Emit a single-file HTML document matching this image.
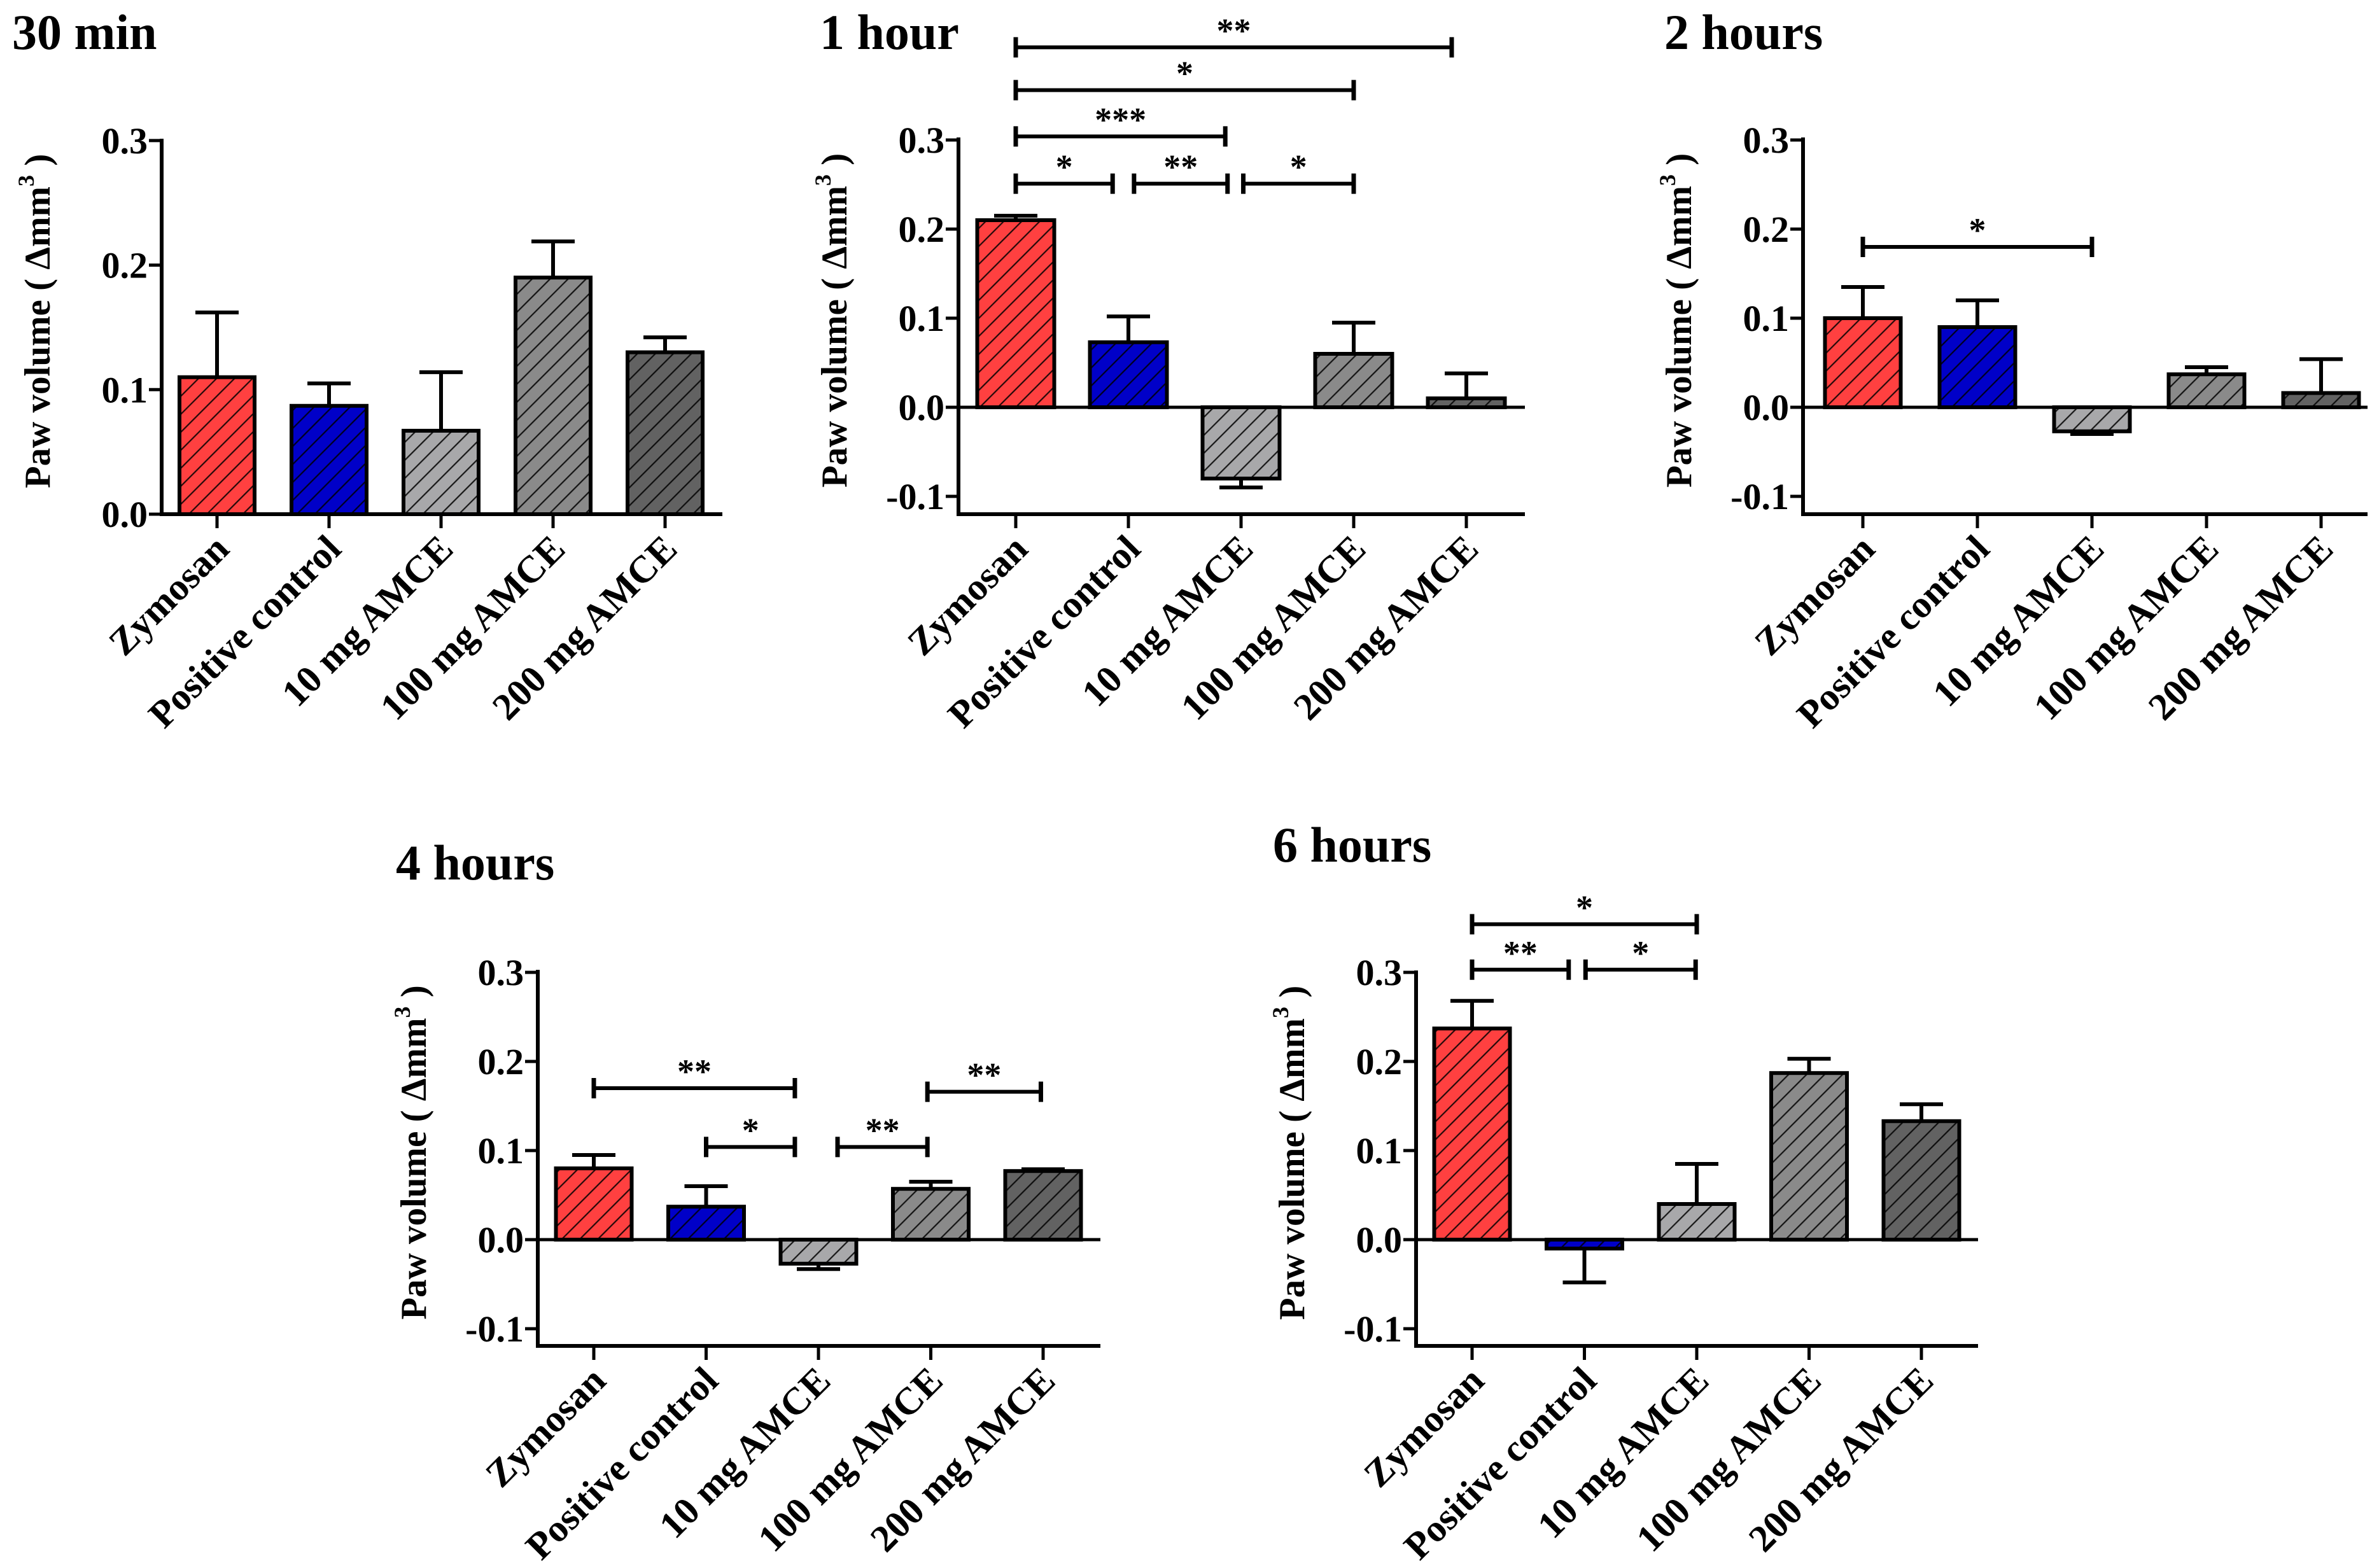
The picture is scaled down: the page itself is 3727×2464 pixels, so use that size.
<!DOCTYPE html>
<html><head><meta charset="utf-8">
<style>
html,body{margin:0;padding:0;background:#fff;}
svg{display:block;}
text{font-family:"Liberation Serif",serif;font-weight:bold;fill:#000;}
</style></head>
<body>
<svg id="fig" width="3727" height="2464" viewBox="0 0 3727 2464" xmlns="http://www.w3.org/2000/svg">
<defs>
<pattern id="hatch" patternUnits="userSpaceOnUse" width="20" height="20" patternTransform="rotate(45)">
<line x1="0" y1="0" x2="0" y2="20" stroke="#000" stroke-width="4.5"/>
</pattern>
</defs>
</svg>
<script>
const categories = ["Zymosan","Positive control","10 mg AMCE","100 mg AMCE","200 mg AMCE"];
const barColors = ["#ff4040","#0000c8","#a8a8aa","#8a8a8a","#626262"];
const titles = ["30 min","1 hour","2 hours","4 hours","6 hours"];
const means30 = [0.110, 0.087, 0.067, 0.190, 0.130];
const errs30  = [0.162, 0.105, 0.114, 0.219, 0.142];
const means1h = [0.210, 0.073, -0.080, 0.060, 0.010];
const errs1h  = [0.215, 0.102, -0.090, 0.095, 0.038];
const means2h = [0.100, 0.090, -0.027, 0.037, 0.016];
const errs2h  = [0.135, 0.120, -0.030, 0.045, 0.054];
const means4h = [0.080, 0.037, -0.027, 0.057, 0.077];
const errs4h  = [0.095, 0.060, -0.033, 0.065, 0.079];
const means6h = [0.237, -0.010, 0.040, 0.187, 0.133];
const errs6h  = [0.268, -0.048, 0.085, 0.203, 0.152];
const ticksA = [0.0, 0.1, 0.2, 0.3];
const ticksB = [-0.1, 0.0, 0.1, 0.2, 0.3];
const tickLabelsA = ["0.0","0.1","0.2","0.3"];
const tickLabelsB = ["-0.1","0.0","0.1","0.2","0.3"];
// significance brackets: [fromIndex, toIndex, level(value units), label]
const sig30 = [];
const sig1h = [[0,3.87,0.404,"**"],[0,3,0.356,"*"],[0,1.86,0.304,"***"],[0,0.86,0.251,"*"],[1.05,1.88,0.251,"**"],[2.02,3,0.251,"*"]];
const sig2h = [[0,2,0.180,"*"]];
const sig4h = [[0,1.79,0.170,"**"],[1,1.79,0.104,"*"],[2.17,2.97,0.104,"**"],[2.97,3.98,0.166,"**"]];
const sig6h = [[0,2,0.354,"*"],[0,0.86,0.303,"**"],[1.01,1.99,0.303,"*"]];

const NS="http://www.w3.org/2000/svg";
const svg=document.getElementById('fig');
function mk(tag,attrs,parent){const e=document.createElementNS(NS,tag);for(const k in attrs)e.setAttribute(k,attrs[k]);(parent||svg).appendChild(e);return e;}

function panel(cfg){
  const g=mk('g',{});
  
  
  const {ax,top,zero,step,bottom,xEnd,x0,dx,ymin,ticks,tlabels,means,errs,sig,title,tx,ty,bw}=cfg;
  const Y=v=>zero-(v/0.1)*step;
  const X=i=>x0+i*dx;
  const t=mk('text',{x:tx,y:ty,'font-size':78},g);t.textContent=title;
  
  
  means.forEach((m,i)=>{
    const x=X(i)-bw/2, y=Math.min(Y(m),Y(0)), h=Math.abs(Y(m)-Y(0));
    const r=mk('rect',{x:x,y:y,width:bw,height:h,fill:barColors[i]},g);
    
    
    mk('rect',{x:x,y:y,width:bw,height:h,fill:'url(#hatch)','fill-opacity':0.85},g);
    mk('rect',{x:x,y:y,width:bw,height:h,fill:'none',stroke:'#000','stroke-width':6},g);
    const e=errs[i];
    const eb=mk('line',{x1:X(i),x2:X(i),y1:Y(m),y2:Y(e),stroke:'#000','stroke-width':6},g);
    
    
    mk('line',{x1:X(i)-34,x2:X(i)+34,y1:Y(e),y2:Y(e),stroke:'#000','stroke-width':6},g);
  });
  if(ymin<0){mk('line',{x1:ax,x2:xEnd,y1:zero,y2:zero,stroke:'#000','stroke-width':5},g);}
  const xa=mk('line',{x1:ax-3,x2:xEnd,y1:bottom,y2:bottom,stroke:'#000','stroke-width':6},g);
  
  
  const ya=mk('line',{x1:ax,x2:ax,y1:top-3,y2:bottom+3,stroke:'#000','stroke-width':6},g);
  
  
  ticks.forEach((v,k)=>{
    mk('line',{x1:ax-20,x2:ax,y1:Y(v),y2:Y(v),stroke:'#000','stroke-width':5},g);
    const tl=mk('text',{x:ax-22,y:Y(v)+20,'font-size':58,'text-anchor':'end'},g);
    tl.textContent=tlabels[k];
    
    
  });
  categories.forEach((c,i)=>{
    mk('line',{x1:X(i),x2:X(i),y1:bottom,y2:bottom+22,stroke:'#000','stroke-width':5},g);
    const lx=X(i)+22, ly=bottom+58;
    const tl=mk('text',{x:lx,y:ly,'font-size':60,'text-anchor':'end',transform:`rotate(-45 ${lx} ${ly})`},g);
    tl.textContent=c;
    
    
  });
  const cy=(top+bottom)/2-10, cx=ax-195;
  const yt=mk('text',{x:cx,y:cy,'font-size':57,'text-anchor':'middle',transform:`rotate(-90 ${cx} ${cy})`,dy:19},g);
  
  
  yt.appendChild(document.createTextNode('Paw volume ( \u0394mm'));
  const sup=mk('tspan',{'font-size':36,dy:-25},yt);sup.textContent='3';
  const rest=mk('tspan',{dy:25},yt);rest.textContent=' )';
  sig.forEach(s=>{
    const xa1=X(s[0]), xb=X(s[1]), y=Y(s[2]);
    const l=mk('line',{x1:xa1,x2:xb,y1:y,y2:y,stroke:'#000','stroke-width':6},g);
    
    
    mk('line',{x1:xa1,x2:xa1,y1:y-16,y2:y+16,stroke:'#000','stroke-width':7},g);
    mk('line',{x1:xb,x2:xb,y1:y-16,y2:y+16,stroke:'#000','stroke-width':7},g);
    const st=mk('text',{x:(xa1+xb)/2,y:y-8,'font-size':54,'text-anchor':'middle'},g);
    st.textContent=s[3];
    
    
  });
}

panel({name:'panel-30min',title:titles[0],tx:19,ty:77,ax:254,top:221,zero:808,step:195.7,bottom:808,xEnd:1135,x0:341,dx:176,ymin:0,ticks:ticksA,tlabels:tickLabelsA,means:means30,errs:errs30,sig:sig30,bw:118});
panel({name:'panel-1hour',title:titles[1],tx:1288,ty:77,ax:1506,top:219,zero:640,step:140,bottom:808,xEnd:2396,x0:1596,dx:177,ymin:-0.1,ticks:ticksB,tlabels:tickLabelsB,means:means1h,errs:errs1h,sig:sig1h,bw:121});
panel({name:'panel-2hours',title:titles[2],tx:2615,ty:77,ax:2833,top:219,zero:640,step:140,bottom:808,xEnd:3720,x0:2927,dx:180,ymin:-0.1,ticks:ticksB,tlabels:tickLabelsB,means:means2h,errs:errs2h,sig:sig2h,bw:119});
panel({name:'panel-4hours',title:titles[3],tx:622,ty:1382,ax:845,top:1527,zero:1948,step:140,bottom:2115,xEnd:1729,x0:933,dx:176.5,ymin:-0.1,ticks:ticksB,tlabels:tickLabelsB,means:means4h,errs:errs4h,sig:sig4h,bw:119});
panel({name:'panel-6hours',title:titles[4],tx:2000,ty:1354,ax:2225,top:1528,zero:1948,step:140,bottom:2115,xEnd:3108,x0:2313,dx:176.5,ymin:-0.1,ticks:ticksB,tlabels:tickLabelsB,means:means6h,errs:errs6h,sig:sig6h,bw:119});
</script>
</body></html>
